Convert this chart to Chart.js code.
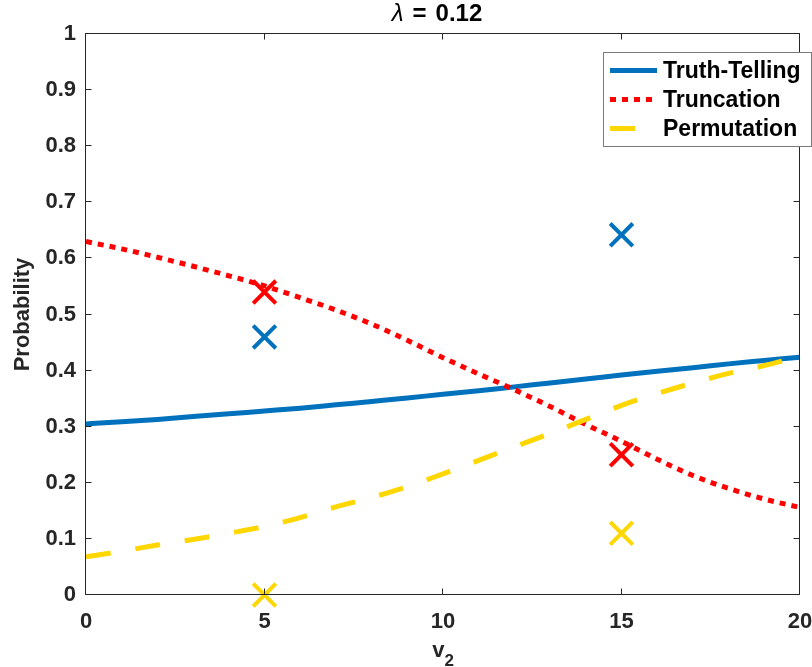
<!DOCTYPE html>
<html>
<head>
<meta charset="utf-8">
<script src="https://cdn.jsdelivr.net/npm/chart.js@4/dist/chart.umd.min.js"></script>
<style>
  html, body { margin: 0; padding: 0; background: #ffffff; }
  canvas { display: block; }
</style>
</head>
<body>
<canvas id="chart" width="812" height="667"></canvas>
<script>
// Bidder valuation v2 on the horizontal axis
const v2 = [0, 1, 2, 3, 4, 5, 6, 7, 8, 9, 10, 11, 12, 13, 14, 15, 16, 17, 18, 19, 20];

// Model-predicted probability of each strategy
const truthTelling = [0.305, 0.309, 0.313, 0.318, 0.323, 0.328, 0.333, 0.339, 0.345, 0.351, 0.358,
                      0.364, 0.371, 0.378, 0.385, 0.392, 0.399, 0.405, 0.412, 0.418, 0.424];
const truncation   = [0.630, 0.617, 0.602, 0.586, 0.569, 0.551, 0.530, 0.508, 0.483, 0.454, 0.423,
                      0.394, 0.366, 0.336, 0.304, 0.274, 0.242, 0.213, 0.190, 0.171, 0.156];
const permutation  = [0.068, 0.078, 0.089, 0.099, 0.110, 0.122, 0.138, 0.157, 0.174, 0.193, 0.216,
                      0.240, 0.264, 0.288, 0.313, 0.338, 0.359, 0.378, 0.395, 0.409, 0.425];

// Observed frequencies in the experiment
const observedV2       = [5, 15];
const truthObserved    = [0.46, 0.642];
const truncObserved    = [0.54, 0.25];
const permObserved     = [0.00, 0.11];

const seriesNames = ['Truth-Telling', 'Truncation', 'Permutation'];
const seriesColors = ['#0072BD', '#FF0000', '#FFD700'];

const xTicks = [0, 5, 10, 15, 20];
const yTicks = [0, 0.1, 0.2, 0.3, 0.4, 0.5, 0.6, 0.7, 0.8, 0.9, 1];
const yTickLabels = ['0', '0.1', '0.2', '0.3', '0.4', '0.5', '0.6', '0.7', '0.8', '0.9', '1'];

const lambdaValue = '0.12';
const FONT = '"Liberation Sans", Arial, sans-serif';
const AXIS_COLOR = '#262626';

const toPoints = (xs, ys) => xs.map((x, i) => ({ x: x, y: ys[i] }));

function curve(label, ys, color, dash, order) {
  return {
    label: label,
    data: toPoints(v2, ys),
    showLine: true,
    borderColor: color,
    backgroundColor: color,
    borderWidth: 5,
    borderDash: dash,
    borderCapStyle: 'butt',
    pointRadius: 0,
    pointHoverRadius: 0,
    cubicInterpolationMode: 'monotone',
    order: order,
    isCurve: true
  };
}

function markers(label, ys, color) {
  return {
    label: label,
    data: toPoints(observedV2, ys),
    showLine: false,
    pointStyle: 'crossRot',
    pointRadius: 16,
    pointHoverRadius: 16,
    pointBorderWidth: 4,
    pointHoverBorderWidth: 4,
    borderColor: color,
    backgroundColor: color,
    clip: false,
    order: 0
  };
}

// Box around the plot area with inward ticks on all four sides
const framePlugin = {
  id: 'frame',
  afterDatasetsDraw(chart) {
    const { ctx, chartArea: a, scales } = chart;
    const L = Math.round(a.left) - 0.5, R = Math.round(a.right) - 0.5;
    const T = Math.round(a.top) - 0.5, B = Math.round(a.bottom) - 0.5;
    const tl = 6;
    ctx.save();
    ctx.strokeStyle = AXIS_COLOR;
    ctx.lineWidth = 1;
    ctx.beginPath();
    ctx.rect(L, T, R - L, B - T);
    xTicks.forEach(v => {
      const px = Math.round(scales.x.getPixelForValue(v)) - 0.5;
      ctx.moveTo(px, B); ctx.lineTo(px, B - tl);
      ctx.moveTo(px, T); ctx.lineTo(px, T + tl);
    });
    yTicks.forEach(v => {
      const py = Math.round(scales.y.getPixelForValue(v)) - 0.5;
      ctx.moveTo(L, py); ctx.lineTo(L + tl, py);
      ctx.moveTo(R, py); ctx.lineTo(R - tl, py);
    });
    ctx.stroke();
    ctx.restore();
  }
};

// Title, axis labels and legend
const textPlugin = {
  id: 'texts',
  afterDraw(chart) {
    const { ctx, chartArea: a } = chart;
    ctx.save();
    ctx.fillStyle = '#000000';
    ctx.textBaseline = 'middle';
    ctx.textAlign = 'left';

    // Title: italic lambda, then "=" and the bold value
    const fLam = 'italic 24px ' + FONT;
    const fVal = 'bold 24px ' + FONT;
    const gap = 9;
    ctx.font = fLam; const wA = ctx.measureText('\u03BB').width;
    ctx.font = fVal;
    const wEq = ctx.measureText('=').width;
    const wV = ctx.measureText(lambdaValue).width;
    const total = wA + gap + wEq + gap + wV;
    let tx = (a.left + a.right) / 2 - total / 2 - 6;
    ctx.font = fLam; ctx.fillText('\u03BB', tx, 14);
    tx += wA + gap;
    ctx.font = fVal; ctx.fillText('=', tx, 14);
    tx += wEq + gap;
    ctx.fillText(lambdaValue, tx, 14);

    // x axis label v with subscript 2
    ctx.fillStyle = AXIS_COLOR;
    const fv = 'bold 22px ' + FONT, fs = 'bold 17px ' + FONT;
    ctx.font = fv; const wv = ctx.measureText('v').width;
    ctx.font = fs; const ws = ctx.measureText('2').width;
    const cx = (a.left + a.right) / 2 - (wv + ws) / 2;
    ctx.textBaseline = 'alphabetic';
    ctx.font = fv; ctx.fillText('v', cx, 657);
    ctx.font = fs; ctx.fillText('2', cx + wv, 666);

    // y axis label
    ctx.save();
    ctx.translate(23, (a.top + a.bottom) / 2);
    ctx.rotate(-Math.PI / 2);
    ctx.textAlign = 'center';
    ctx.textBaseline = 'middle';
    ctx.font = 'bold 22px ' + FONT;
    ctx.fillText('Probability', 0, 0);
    ctx.restore();

    // Legend box
    const bx = 603.5, by = 52.5, bw = 208, bh = 94;
    ctx.fillStyle = '#ffffff';
    ctx.fillRect(bx, by, bw, bh);
    ctx.strokeStyle = '#7a7a7a';
    ctx.lineWidth = 1;
    ctx.strokeRect(bx, by, bw, bh);
    const rows = [70.5, 99.5, 128.5];
    const byName = {};
    chart.data.datasets.filter(d => d.isCurve).forEach(d => { byName[d.label] = d; });
    seriesNames.forEach((name, i) => {
      const d = byName[name];
      const y = rows[i];
      ctx.save();
      ctx.strokeStyle = d.borderColor;
      ctx.lineWidth = d.borderWidth;
      ctx.lineCap = 'butt';
      ctx.setLineDash(d.borderDash || []);
      ctx.beginPath();
      ctx.moveTo(610, y);
      ctx.lineTo(657, y);
      ctx.stroke();
      ctx.restore();
      ctx.fillStyle = '#000000';
      ctx.textAlign = 'left';
      ctx.textBaseline = 'middle';
      ctx.font = 'bold 23px ' + FONT;
      ctx.fillText(name, 663, y + 1);
    });
    ctx.restore();
  }
};

new Chart(document.getElementById('chart'), {
  type: 'scatter',
  data: {
    datasets: [
      curve(seriesNames[0], truthTelling, seriesColors[0], [], 3),
      curve(seriesNames[1], truncation, seriesColors[1], [6, 6], 2),
      curve(seriesNames[2], permutation, seriesColors[2], [25, 25], 1),
      markers('Truth-Telling observed', truthObserved, seriesColors[0]),
      markers('Truncation observed', truncObserved, seriesColors[1]),
      markers('Permutation observed', permObserved, seriesColors[2])
    ]
  },
  options: {
    responsive: false,
    devicePixelRatio: 1,
    animation: false,
    events: [],
    layout: { autoPadding: false, padding: { top: 34, right: 0, left: 0, bottom: 0 } },
    plugins: {
      legend: { display: false },
      tooltip: { enabled: false },
      title: { display: false }
    },
    scales: {
      x: {
        type: 'linear',
        min: 0,
        max: 20,
        afterBuildTicks: s => { s.ticks = xTicks.map(v => ({ value: v })); },
        afterFit: s => { s.height = 72; s.paddingRight = 12; s.paddingLeft = 0; },
        grid: { display: false, drawTicks: false },
        border: { display: false },
        ticks: {
          autoSkip: false,
          maxRotation: 0,
          padding: 14,
          color: AXIS_COLOR,
          font: { family: FONT, size: 22, weight: 'bold' },
          callback: v => String(v)
        }
      },
      y: {
        type: 'linear',
        min: 0,
        max: 1,
        afterBuildTicks: s => { s.ticks = yTicks.map(v => ({ value: v })); },
        afterFit: s => { s.width = 86; s.paddingTop = 0; s.paddingBottom = 0; },
        grid: { display: false, drawTicks: false },
        border: { display: false },
        ticks: {
          autoSkip: false,
          padding: 10,
          color: AXIS_COLOR,
          font: { family: FONT, size: 22, weight: 'bold' },
          callback: (v, i) => yTickLabels[i]
        }
      }
    }
  },
  plugins: [framePlugin, textPlugin]
});
</script>
</body>
</html>
